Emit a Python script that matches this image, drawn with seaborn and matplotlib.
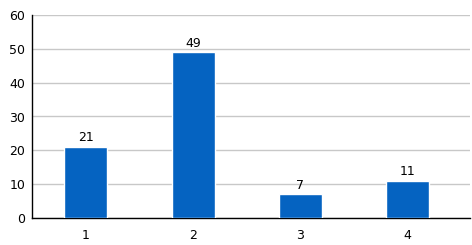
import matplotlib
matplotlib.use("Agg")
import matplotlib.pyplot as plt
import seaborn as sns
import pandas as pd

categories = ["1", "2", "3", "4"]
values = [21, 49, 7, 11]
yticks = [0, 10, 20, 30, 40, 50, 60]

sns.set_theme(style="white")
plt.rcParams['font.family'] = ['DejaVu Sans']

df = pd.DataFrame({"cat": categories, "val": values})
fig = plt.figure(figsize=(4.72, 2.45), dpi=100)
ax = fig.add_axes([32/472, 1-218/245, 438/472, 203/245])
sns.barplot(data=df, x="cat", y="val", color="#0563C1", saturation=1, width=0.4, ax=ax, zorder=3)
ax.set_ylim(0, 60)
ax.set_xlim(-0.5, 3.58)
ax.set_yticks(yticks)
ax.yaxis.grid(True, color="#C8C8C8", linewidth=1, zorder=0)
ax.set_axisbelow(True)
for s in ["top", "right"]:
    ax.spines[s].set_visible(False)
for s in ["left", "bottom"]:
    ax.spines[s].set_color("black")
    ax.spines[s].set_linewidth(1)
ax.set_xlabel("")
ax.set_ylabel("")
ax.tick_params(axis="both", labelsize=9, colors="black", length=0, pad=8)
ax.tick_params(axis="y", pad=5)
for i, v in enumerate(values):
    ax.text(i, v + 0.8, str(v), ha="center", va="bottom", fontsize=9, color="black")
fig.savefig("out.png", dpi=100)
